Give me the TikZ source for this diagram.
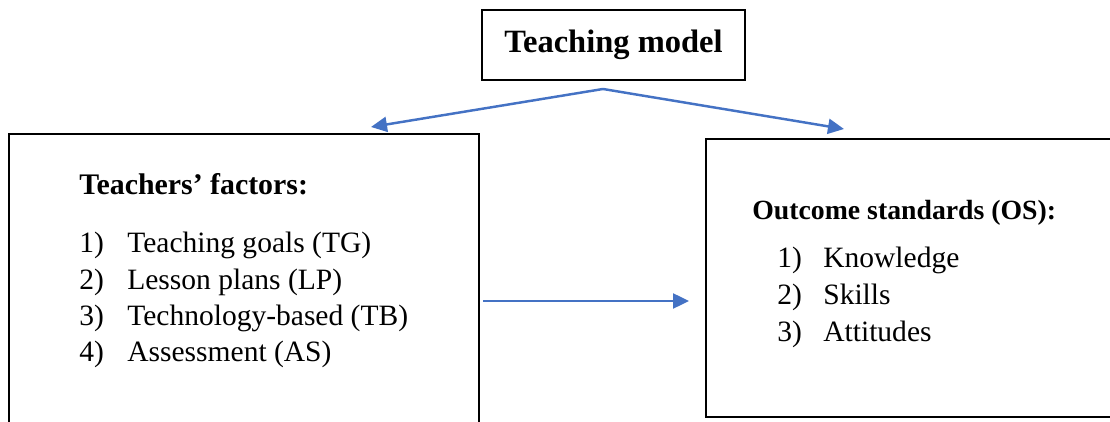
\documentclass[tikz,border=0pt]{standalone}
\usepackage{fontspec}
\setmainfont{Liberation Serif}
\usetikzlibrary{arrows.meta}
\definecolor{flowblue}{HTML}{4472C4}
\begin{document}
\begin{tikzpicture}[x=0.02cm,y=-0.02cm,
    box/.style={draw,rectangle,line width=1.1pt,inner sep=0pt},
    flow/.style={flowblue,line width=1.4pt,-{Triangle[length=0.32cm,width=0.3cm]}},
    head/.style={anchor=base west,inner sep=0pt,font=\fontsize{17}{20}\selectfont\bfseries},
    item/.style={anchor=base west,inner sep=0pt,font=\fontsize{16.8}{19}\selectfont}]
    \useasboundingbox (0,0) rectangle (1110,422);
    \clip (0,0) rectangle (1110,422);
    %draw boxes
    \node[box,minimum width=5.26cm,minimum height=1.4cm,font=\fontsize{18.5}{20}\selectfont\bfseries] (model) at (613.5,45) {Teaching model};
    \node[box,minimum width=9.4cm,minimum height=6.4cm] (teachers) at (244,294) {};
    \node[box,minimum width=8.4cm,minimum height=5.56cm] (outcome) at (916,278) {};
    %teachers' factors
    \node[head] (tfhead) at (79,195) {Teachers’ factors:};
    \foreach \txt [count=\i] in {Teaching goals (TG),Lesson plans (LP),Technology-based (TB),Assessment (AS)}{
        \node[item] (tfnum\i) at (79,{253+36.3*(\i-1)}) {\i)};
        \node[item] (tf\i) at (127,{253+36.3*(\i-1)}) {\txt};
    }
    %outcome standards
    \node[head,font=\fontsize{15.8}{19}\selectfont\bfseries] (oshead) at (752,220) {Outcome standards (OS):};
    \foreach \txt [count=\i] in {Knowledge,Skills,Attitudes}{
        \node[item] (osnum\i) at (777,{268+37*(\i-1)}) {\i)};
        \node[item] (os\i) at (823,{268+37*(\i-1)}) {\txt};
    }
    %draw arrows
    \coordinate (split) at (603,89);
    \coordinate (tfin) at (371,127);
    \coordinate (osin) at (844,129);
    \coordinate (hstart) at (483,301);
    \coordinate (hend) at (689,301);
    \draw[flow] (split) -- (tfin);
    \draw[flow] (split) -- (osin);
    \draw[flow] (hstart) -- (hend);
\end{tikzpicture}
\end{document}
